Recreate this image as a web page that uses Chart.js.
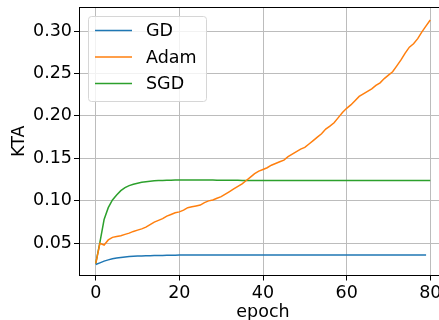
<!DOCTYPE html>
<html>
<head>
<meta charset="utf-8">
<script src="https://cdn.jsdelivr.net/npm/chart.js@4.4.1/dist/chart.umd.min.js"></script>
<style>
  html, body { margin: 0; padding: 0; overflow: hidden; background: #fff; }
  canvas { display: block; }
</style>
</head>
<body>
<canvas id="ktaChart" width="448" height="320"></canvas>
<script>
const epochs = Array.from({ length: 81 }, (_, i) => i);
const xTicks = [0, 20, 40, 60, 80];
const yTicks = [0.05, 0.10, 0.15, 0.20, 0.25, 0.30];

const gdValues = [
  0.0250, 0.0270, 0.0290, 0.0305, 0.0318, 0.0327, 0.0334, 0.0340, 0.0344, 0.0348,
  0.0350, 0.0352, 0.0354, 0.0355, 0.0356, 0.0357, 0.0358, 0.0359, 0.0360, 0.0360,
  0.0361, 0.0361, 0.0362, 0.0362, 0.0362, 0.0362, 0.0363, 0.0363, 0.0363, 0.0363,
  0.0363, 0.0363, 0.0363, 0.0363, 0.0363, 0.0363, 0.0363, 0.0363, 0.0363, 0.0363,
  0.0363, 0.0363, 0.0363, 0.0363, 0.0363, 0.0363, 0.0363, 0.0363, 0.0363, 0.0363,
  0.0363, 0.0363, 0.0363, 0.0363, 0.0363, 0.0363, 0.0363, 0.0363, 0.0363, 0.0363,
  0.0363, 0.0363, 0.0363, 0.0363, 0.0363, 0.0363, 0.0363, 0.0363, 0.0363, 0.0363,
  0.0363, 0.0363, 0.0363, 0.0363, 0.0363, 0.0363, 0.0363, 0.0363, 0.0363, 0.0363
];

const adamValues = [
  0.026, 0.050, 0.048, 0.054, 0.057, 0.058, 0.059, 0.0605, 0.062, 0.064,
  0.0655, 0.067, 0.069, 0.072, 0.075, 0.077, 0.079, 0.082, 0.084, 0.086,
  0.087, 0.089, 0.092, 0.093, 0.094, 0.095, 0.098, 0.100, 0.101, 0.103,
  0.105, 0.108, 0.111, 0.114, 0.117, 0.120, 0.124, 0.128, 0.132, 0.135,
  0.137, 0.139, 0.142, 0.144, 0.146, 0.148, 0.152, 0.155, 0.158, 0.161,
  0.163, 0.167, 0.171, 0.175, 0.179, 0.1845, 0.188, 0.192, 0.198, 0.204,
  0.209, 0.213, 0.218, 0.223, 0.226, 0.229, 0.232, 0.236, 0.239, 0.244,
  0.248, 0.252, 0.259, 0.266, 0.274, 0.281, 0.285, 0.291, 0.299, 0.306,
  0.313
];

const sgdValues = [
  0.026, 0.051, 0.078, 0.092, 0.101, 0.107, 0.112, 0.1155, 0.118, 0.1195,
  0.1208, 0.1218, 0.1226, 0.1232, 0.1236, 0.1239, 0.1241, 0.1243, 0.1244, 0.1245,
  0.1246, 0.1246, 0.1246, 0.1246, 0.1246, 0.1246, 0.1245, 0.1245, 0.1245, 0.1244,
  0.1244, 0.1243, 0.1243, 0.1242, 0.1242, 0.1241, 0.1241, 0.1241, 0.1240, 0.1240,
  0.1240, 0.1240, 0.1240, 0.1240, 0.1240, 0.1240, 0.1240, 0.1240, 0.1240, 0.1240,
  0.1240, 0.1240, 0.1240, 0.1240, 0.1240, 0.1240, 0.1240, 0.1240, 0.1240, 0.1240,
  0.1240, 0.1240, 0.1240, 0.1240, 0.1240, 0.1240, 0.1240, 0.1240, 0.1240, 0.1240,
  0.1240, 0.1240, 0.1240, 0.1240, 0.1240, 0.1240, 0.1240, 0.1240, 0.1240, 0.1240,
  0.1240
];

const FONT = 'DejaVu Sans';
const FONT_SIZE = 17.5;

// top/right spines, the axes' own borders only cover left and bottom
const framePlugin = {
  id: 'frame',
  afterDatasetsDraw(chart) {
    const { ctx, chartArea: a } = chart;
    ctx.save();
    ctx.strokeStyle = '#000';
    ctx.lineWidth = 1;
    ctx.beginPath();
    ctx.moveTo(Math.round(a.left) + 0.5, Math.round(a.top) + 0.5);
    ctx.lineTo(Math.round(a.right) - 0.5, Math.round(a.top) + 0.5);
    ctx.lineTo(Math.round(a.right) - 0.5, Math.round(a.bottom));
    ctx.stroke();
    ctx.restore();
  }
};

// legend box in the upper left corner of the plot
const insideLegend = {
  id: 'insideLegend',
  afterDraw(chart) {
    const { ctx, chartArea: a } = chart;
    const x = a.left + 9, y = a.top + 9, w = 118, h = 85;
    ctx.save();
    ctx.beginPath();
    ctx.roundRect(x + 0.5, y + 0.5, w, h, 3);
    ctx.fillStyle = 'rgba(255,255,255,0.8)';
    ctx.fill();
    ctx.strokeStyle = '#d6d6d6';
    ctx.lineWidth = 1;
    ctx.stroke();
    ctx.font = FONT_SIZE + 'px "' + FONT + '"';
    ctx.textBaseline = 'middle';
    ctx.textAlign = 'left';
    chart.data.datasets.forEach((ds, i) => {
      const rowY = y + 14.5 + i * 26.5;
      ctx.strokeStyle = ds.borderColor;
      ctx.lineWidth = 1.5;
      ctx.beginPath();
      ctx.moveTo(x + 7, rowY);
      ctx.lineTo(x + 44, rowY);
      ctx.stroke();
      ctx.fillStyle = '#000';
      ctx.fillText(ds.label, x + 58, rowY + 1);
    });
    ctx.restore();
  }
};

const ctx = document.getElementById('ktaChart').getContext('2d');
const chart = new Chart(ctx, {
  type: 'line',
  data: {
    labels: epochs,
    datasets: [
      { label: 'GD', data: gdValues, borderColor: '#1f77b4' },
      { label: 'Adam', data: adamValues, borderColor: '#ff7f0e' },
      { label: 'SGD', data: sgdValues, borderColor: '#2ca02c' }
    ]
  },
  options: {
    responsive: false,
    animation: false,
    layout: { padding: { top: 7, right: 1, bottom: 0, left: 0 } },
    elements: {
      line: { borderWidth: 1.5, tension: 0, fill: false },
      point: { radius: 0 }
    },
    scales: {
      x: {
        type: 'linear',
        min: -4,
        max: 84,
        afterFit(scale) {
          scale.height = 44.5;
          scale.paddingLeft = 0;
          scale.paddingRight = 0;
        },
        afterBuildTicks(scale) { scale.ticks = xTicks.map(v => ({ value: v })); },
        grid: { color: '#bcbcbc', lineWidth: 1, tickColor: '#000', tickLength: 5 },
        border: { color: '#000', width: 1 },
        ticks: {
          color: '#000',
          padding: 2,
          maxRotation: 0,
          font: { family: FONT, size: FONT_SIZE },
          callback: v => String(v)
        },
        title: {
          display: true,
          text: 'epoch',
          color: '#000',
          font: { family: FONT, size: FONT_SIZE },
          padding: { top: 0, bottom: -3 }
        }
      },
      y: {
        min: 0.0121,
        max: 0.3283,
        afterFit(scale) {
          scale.width = 79;
          scale.paddingTop = 0;
          scale.paddingBottom = 0;
        },
        afterBuildTicks(scale) { scale.ticks = yTicks.map(v => ({ value: v })); },
        grid: { color: '#bcbcbc', lineWidth: 1, tickColor: '#000', tickLength: 5 },
        border: { color: '#000', width: 1 },
        ticks: {
          color: '#000',
          padding: 2,
          font: { family: FONT, size: FONT_SIZE },
          callback: v => v.toFixed(2)
        },
        title: {
          display: true,
          text: 'KTA',
          color: '#000',
          font: { family: FONT, size: FONT_SIZE },
          padding: { top: 9, bottom: 0 }
        }
      }
    },
    plugins: {
      legend: { display: false },
      tooltip: { enabled: false }
    }
  },
  plugins: [framePlugin, insideLegend]
});
</script>
</body>
</html>
